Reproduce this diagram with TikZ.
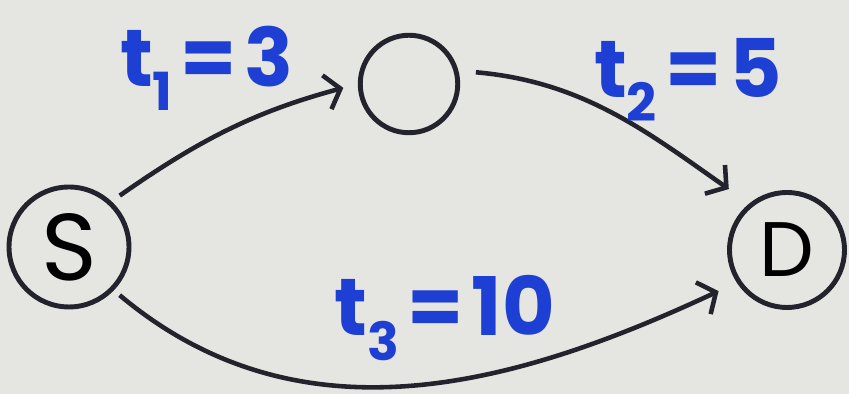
\documentclass[tikz,border=0pt]{standalone}
\usepackage{fontspec}
\usepackage{graphicx}
\setmainfont{Poppins}
\usetikzlibrary{arrows.meta,positioning}
\definecolor{inkc}{HTML}{23232E}
\definecolor{penc}{HTML}{1D3FD4}
\definecolor{paperc}{HTML}{E5E5E1}
\newcommand{\tlab}[2]{t\raisebox{-.3em}{\scalebox{.65}{#1}}\hspace{.1em}=\hspace{.1em}#2}
\tikzset{
  vert/.style={draw=inkc,line width=2.8pt,circle,inner sep=0pt},
  edge/.style={-{Straight Barb[length=2.8mm,width=7mm]},line width=2.6pt,inkc},
  lbl/.style={text=penc,font=\fontsize{46}{50}\selectfont\bfseries}
}

\begin{document}
\begin{tikzpicture}[x=0.02cm,y=0.02cm]
\useasboundingbox (0,0) rectangle (849,394);
\fill[paperc] (0,0) rectangle (849,394);
\node[vert,minimum size=2.4cm,font=\fontsize{54}{58}\selectfont] (S) at (69,147) {S};
\node[vert,minimum size=1.95cm] (M) at (409,310) {};
\node[vert,minimum size=2.3cm,font=\fontsize{44}{48}\selectfont] (D) at (787,144) {D};
\draw[edge,shorten <=0.2cm,shorten >=0.3cm] (S.47) to[out=35,in=195] (M.west);
\draw[edge,shorten <=0.35cm,shorten >=0.5cm] (M.15) to[out=-5,in=145] (D.129);
\draw[edge,shorten <=0.15cm,shorten >=0.4cm] (S.-44) to[out=-40,in=205] (D.213);
\node[lbl] (t1) at (207,326) {\tlab{1}{3}};
\node[lbl] (t2) at (688,314) {\tlab{2}{5}};
\node[lbl] (t3) at (445,76) {\tlab{3}{10}};
\end{tikzpicture}
\end{document}
